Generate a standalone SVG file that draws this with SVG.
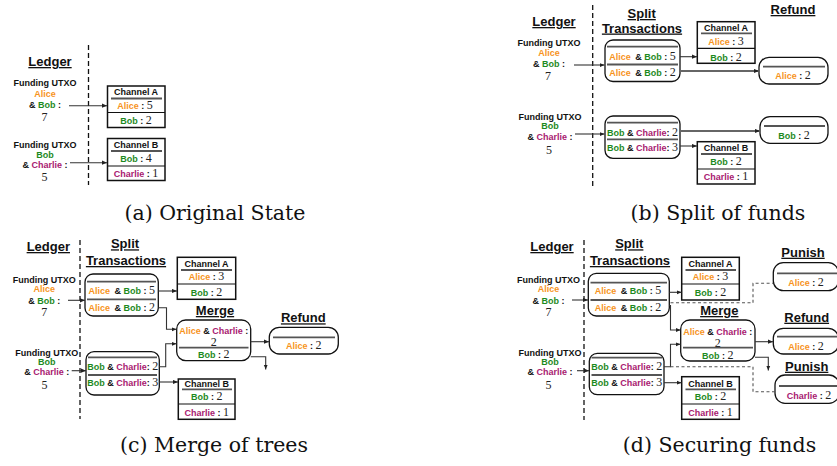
<svg xmlns="http://www.w3.org/2000/svg" width="837" height="466" viewBox="0 0 837 466">
<style>
.s{font-family:"Liberation Sans",Arial,sans-serif;font-weight:bold;font-size:9px;fill:#111;text-anchor:middle}
.d{font-family:"Liberation Serif","Times New Roman",serif;font-weight:normal;font-size:12px;fill:#222}
.hd{font-family:"Liberation Sans",Arial,sans-serif;font-weight:bold;font-size:13px;fill:#111;text-anchor:middle;text-decoration:underline}
.cap{font-family:"DejaVu Serif","Liberation Serif",serif;font-size:20.5px;fill:#111;text-anchor:middle}
.al{fill:#F7941D}.bo{fill:#1E8A1E}.chl{fill:#A82070}
.box{fill:#fff;stroke:#111;stroke-width:1.5}
.rb{fill:#fff;stroke:#111;stroke-width:1.3}
.dv{stroke:#555;stroke-width:1.8;fill:none}
.sp{stroke:#111;stroke-width:1.2;fill:none}
.ld{stroke:#111;stroke-width:1.3;stroke-dasharray:5 3;fill:none}
.c{stroke:#333;stroke-width:1.1;fill:none;marker-end:url(#ah)}
.g{stroke:#666;stroke-width:1.8;fill:none;marker-end:url(#ah)}
.dc{stroke:#555;stroke-width:1.1;stroke-dasharray:3 2.5;fill:none}
</style>
<defs>
<marker id="ah" viewBox="0 0 6 6" refX="6" refY="3" markerWidth="5" markerHeight="5" orient="auto" markerUnits="userSpaceOnUse"><path d="M0,0.5 L6,3 L0,5.5 z" fill="#222"/></marker>
</defs>

<!-- ===== Panel (a) ===== -->
<g id="a-ledger">
<line class="ld" x1="88.5" y1="45" x2="88.5" y2="185"/>
<text class="hd" x="50" y="66">Ledger</text>
</g>
<g id="a-fund1">
<text class="s" x="45" y="86">Funding UTXO</text>
<text class="s" x="45" y="96.5"><tspan class="al">Alice</tspan></text>
<text class="s" x="45" y="107.5">&amp; <tspan class="bo">Bob</tspan> :</text>
<text class="s d" x="44.5" y="121">7</text>
</g>
<g id="a-fund2">
<text class="s" x="45" y="148">Funding UTXO</text>
<text class="s" x="45" y="157.5"><tspan class="bo">Bob</tspan></text>
<text class="s" x="45" y="168">&amp; <tspan class="chl">Charlie</tspan> :</text>
<text class="s d" x="44.5" y="180.5">5</text>
</g>
<g id="a-chanA">
<rect class="box" x="107.5" y="86" width="57.5" height="41.5"/>
<text class="s" x="136" y="95">Channel A</text>
<line class="dv" x1="111" y1="98.5" x2="162" y2="98.5"/>
<text class="s" x="135" y="109"><tspan class="al">Alice</tspan> : <tspan class="d">5</tspan></text>
<line class="sp" x1="107.5" y1="112.5" x2="165" y2="112.5"/>
<text class="s" x="136" y="124"><tspan class="bo">Bob</tspan> : <tspan class="d">2</tspan></text>
</g>
<g id="a-chanB">
<rect class="box" x="107.5" y="138.5" width="57.5" height="42"/>
<text class="s" x="136" y="148.3">Channel B</text>
<line class="dv" x1="111" y1="151" x2="162" y2="151"/>
<text class="s" x="136" y="161.7"><tspan class="bo">Bob</tspan> : <tspan class="d">4</tspan></text>
<line class="sp" x1="107.5" y1="166" x2="165" y2="166"/>
<text class="s" x="136" y="177.3"><tspan class="chl">Charlie</tspan> : <tspan class="d">1</tspan></text>
</g>
<text class="cap" x="215" y="220">(a) Original State</text>

<!-- ===== Panel (b) ===== -->
<g id="b-ledger">
<line class="ld" x1="592.7" y1="5" x2="592.7" y2="186"/>
<text class="hd" x="554" y="26">Ledger</text>
</g>
<g id="b-split-title">
<text class="hd" x="641.7" y="18">Split</text>
<text class="hd" x="642" y="32.5">Transactions</text>
</g>
<g id="b-fund1">
<text class="s" x="549" y="46">Funding UTXO</text>
<text class="s" x="549" y="56"><tspan class="al">Alice</tspan></text>
<text class="s" x="549" y="66.5">&amp; <tspan class="bo">Bob</tspan> :</text>
<text class="s d" x="548" y="80">7</text>
</g>
<g id="b-fund2">
<text class="s" x="550" y="119.5">Funding UTXO</text>
<text class="s" x="550" y="129.3"><tspan class="bo">Bob</tspan></text>
<text class="s" x="550" y="140">&amp; <tspan class="chl">Charlie</tspan> :</text>
<text class="s d" x="549" y="153.5">5</text>
</g>
<g id="b-split1">
<rect class="rb" x="605" y="40" width="75" height="41.5" rx="8"/>
<line class="dv" x1="607" y1="46.7" x2="678" y2="46.7"/>
<text class="s" x="642.5" y="60"><tspan class="al">Alice</tspan> <tspan dx="2">&amp;</tspan> <tspan class="bo">Bob</tspan> : <tspan class="d">5</tspan></text>
<line class="dv" x1="607" y1="64.5" x2="678" y2="64.5"/>
<text class="s" x="642.5" y="76"><tspan class="al">Alice</tspan> <tspan dx="2">&amp;</tspan> <tspan class="bo">Bob</tspan> : <tspan class="d">2</tspan></text>
</g>
<g id="b-split2">
<rect class="rb" x="605" y="116" width="75" height="42.3" rx="8"/>
<line class="dv" x1="607" y1="122.7" x2="678" y2="122.7"/>
<text class="s" x="642.5" y="136"><tspan class="bo">Bob</tspan> &amp; <tspan class="chl">Charlie</tspan>: <tspan class="d">2</tspan></text>
<line class="dv" x1="607" y1="139.3" x2="678" y2="139.3"/>
<text class="s" x="642.5" y="151"><tspan class="bo">Bob</tspan> &amp; <tspan class="chl">Charlie</tspan>: <tspan class="d">3</tspan></text>
</g>
<g id="b-chanA">
<rect class="box" x="697.3" y="21.7" width="57.7" height="41.6"/>
<text class="s" x="726" y="31">Channel A</text>
<line class="dv" x1="701" y1="33.3" x2="752" y2="33.3"/>
<text class="s" x="726" y="44.5"><tspan class="al">Alice</tspan> : <tspan class="d">3</tspan></text>
<line class="sp" x1="697.3" y1="48.3" x2="755" y2="48.3"/>
<text class="s" x="726" y="60.8"><tspan class="bo">Bob</tspan> : <tspan class="d">2</tspan></text>
</g>
<g id="b-chanB">
<rect class="box" x="697.3" y="141.7" width="57.7" height="42.3"/>
<text class="s" x="726" y="150.5">Channel B</text>
<line class="dv" x1="701" y1="154" x2="752" y2="154"/>
<text class="s" x="726" y="165"><tspan class="bo">Bob</tspan> : <tspan class="d">2</tspan></text>
<line class="sp" x1="697.3" y1="169" x2="755" y2="169"/>
<text class="s" x="726" y="180.3"><tspan class="chl">Charlie</tspan> : <tspan class="d">1</tspan></text>
</g>
<g id="b-refund1">
<text class="hd" x="793" y="14">Refund</text>
<rect class="rb" x="759" y="57.3" width="69" height="26.7" rx="10"/>
<line class="dv" x1="763" y1="66.7" x2="825" y2="66.7"/>
<text class="s" x="793" y="78.5"><tspan class="al">Alice</tspan> : <tspan class="d">2</tspan></text>
</g>
<g id="b-refund2">
<rect class="rb" x="760" y="116.7" width="68" height="26.6" rx="10"/>
<line class="dv" x1="764" y1="126" x2="825" y2="126"/>
<text class="s" x="794" y="138.5"><tspan class="bo">Bob</tspan> : <tspan class="d">2</tspan></text>
</g>
<text class="cap" x="718" y="220">(b) Split of funds</text>

<!-- ===== Panel (c) ===== -->
<g id="c-ledger">
<line class="ld" x1="80" y1="240" x2="80" y2="419"/>
<text class="hd" x="48.3" y="251">Ledger</text>
</g>
<g id="c-split-title">
<text class="hd" x="125" y="248.3">Split</text>
<text class="hd" x="126" y="265">Transactions</text>
</g>
<g id="c-fund1">
<text class="s" x="44.3" y="282.5">Funding UTXO</text>
<text class="s" x="44.3" y="292.2"><tspan class="al">Alice</tspan></text>
<text class="s" x="44.3" y="303.5">&amp; <tspan class="bo">Bob</tspan> :</text>
<text class="s d" x="44.3" y="315.7">7</text>
</g>
<g id="c-fund2">
<text class="s" x="46.7" y="355.5">Funding UTXO</text>
<text class="s" x="46.7" y="364.5"><tspan class="bo">Bob</tspan></text>
<text class="s" x="46.7" y="375">&amp; <tspan class="chl">Charlie</tspan> :</text>
<text class="s d" x="44.5" y="389">5</text>
</g>
<g id="c-split1">
<rect class="rb" x="85" y="274" width="73.3" height="42" rx="8"/>
<line class="dv" x1="87" y1="281.7" x2="156" y2="281.7"/>
<text class="s" x="121.7" y="294"><tspan class="al">Alice</tspan> <tspan dx="2">&amp;</tspan> <tspan class="bo">Bob</tspan> : <tspan class="d">5</tspan></text>
<line class="dv" x1="87" y1="299.3" x2="156" y2="299.3"/>
<text class="s" x="121.7" y="311"><tspan class="al">Alice</tspan> <tspan dx="2">&amp;</tspan> <tspan class="bo">Bob</tspan> : <tspan class="d">2</tspan></text>
</g>
<g id="c-split2">
<rect class="rb" x="86" y="351.7" width="73.3" height="43.3" rx="8"/>
<line class="dv" x1="88" y1="357.3" x2="157" y2="357.3"/>
<text class="s" x="122.7" y="370"><tspan class="bo">Bob</tspan> &amp; <tspan class="chl">Charlie</tspan>: <tspan class="d">2</tspan></text>
<line class="dv" x1="88" y1="375" x2="157" y2="375"/>
<text class="s" x="122.7" y="386"><tspan class="bo">Bob</tspan> &amp; <tspan class="chl">Charlie</tspan>: <tspan class="d">3</tspan></text>
</g>
<g id="c-chanA">
<rect class="box" x="177.3" y="257.3" width="58.4" height="42"/>
<text class="s" x="206.5" y="267.2">Channel A</text>
<line class="dv" x1="181" y1="270" x2="232" y2="270"/>
<text class="s" x="206.5" y="280.2"><tspan class="al">Alice</tspan> : <tspan class="d">3</tspan></text>
<line class="sp" x1="177.3" y1="284" x2="235.7" y2="284"/>
<text class="s" x="206.5" y="295.8"><tspan class="bo">Bob</tspan> : <tspan class="d">2</tspan></text>
</g>
<g id="c-chanB">
<rect class="box" x="178.3" y="379" width="56.7" height="40.3"/>
<text class="s" x="206.7" y="386.5">Channel B</text>
<line class="dv" x1="182" y1="389.3" x2="232" y2="389.3"/>
<text class="s" x="206.7" y="400.2"><tspan class="bo">Bob</tspan> : <tspan class="d">2</tspan></text>
<line class="sp" x1="178.3" y1="404" x2="235" y2="404"/>
<text class="s" x="206.7" y="415.8"><tspan class="chl">Charlie</tspan> : <tspan class="d">1</tspan></text>
</g>
<g id="c-merge">
<text class="hd" x="215" y="315">Merge</text>
<rect class="rb" x="176.7" y="320" width="74" height="40.7" rx="9"/>
<text class="s" x="213.7" y="334"><tspan class="al">Alice</tspan> &amp; <tspan class="chl">Charlie</tspan> :</text>
<text class="s d" x="213.7" y="345.7">2</text>
<line class="dv" x1="179" y1="347.7" x2="248.5" y2="347.7"/>
<text class="s" x="213.7" y="358.3"><tspan class="bo">Bob</tspan> : <tspan class="d">2</tspan></text>
</g>
<g id="c-refund">
<text class="hd" x="303.3" y="322.3">Refund</text>
<rect class="rb" x="269.3" y="327.3" width="69" height="26.7" rx="10"/>
<line class="dv" x1="273" y1="337.3" x2="335" y2="337.3"/>
<text class="s" x="303.8" y="349.2"><tspan class="al">Alice</tspan> : <tspan class="d">2</tspan></text>
</g>
<text class="cap" x="214" y="452">(c) Merge of trees</text>

<!-- ===== Panel (d) ===== -->
<g id="d-ledger">
<line class="ld" x1="584" y1="240" x2="584" y2="420"/>
<text class="hd" x="552" y="251">Ledger</text>
</g>
<g id="d-split-title">
<text class="hd" x="629.3" y="248.3">Split</text>
<text class="hd" x="630" y="265">Transactions</text>
</g>
<g id="d-fund1">
<text class="s" x="548.5" y="282.5">Funding UTXO</text>
<text class="s" x="548.5" y="292.2"><tspan class="al">Alice</tspan></text>
<text class="s" x="548.5" y="303.5">&amp; <tspan class="bo">Bob</tspan> :</text>
<text class="s d" x="548.5" y="315.7">7</text>
</g>
<g id="d-fund2">
<text class="s" x="550" y="355.5">Funding UTXO</text>
<text class="s" x="550" y="364.5"><tspan class="bo">Bob</tspan></text>
<text class="s" x="550" y="375">&amp; <tspan class="chl">Charlie</tspan> :</text>
<text class="s d" x="548.5" y="389">5</text>
</g>
<g id="d-split1">
<rect class="rb" x="588.3" y="273.3" width="81" height="42.7" rx="8"/>
<line class="dv" x1="590.5" y1="282.7" x2="667" y2="282.7"/>
<text class="s" x="628" y="294"><tspan class="al">Alice</tspan> <tspan dx="2">&amp;</tspan> <tspan class="bo">Bob</tspan> : <tspan class="d">5</tspan></text>
<line class="dv" x1="590.5" y1="300" x2="667" y2="300"/>
<text class="s" x="628" y="311"><tspan class="al">Alice</tspan> <tspan dx="2">&amp;</tspan> <tspan class="bo">Bob</tspan> : <tspan class="d">2</tspan></text>
</g>
<g id="d-split2">
<rect class="rb" x="589.3" y="353.3" width="74.7" height="41.4" rx="8"/>
<line class="dv" x1="591.5" y1="357.6" x2="662" y2="357.6"/>
<text class="s" x="626.7" y="370"><tspan class="bo">Bob</tspan> &amp; <tspan class="chl">Charlie</tspan>: <tspan class="d">2</tspan></text>
<line class="dv" x1="591.5" y1="375" x2="662" y2="375"/>
<text class="s" x="626.7" y="386"><tspan class="bo">Bob</tspan> &amp; <tspan class="chl">Charlie</tspan>: <tspan class="d">3</tspan></text>
</g>
<g id="d-chanA">
<rect class="box" x="681.7" y="257.3" width="57.6" height="42.7"/>
<text class="s" x="710.5" y="267.2">Channel A</text>
<line class="dv" x1="685.5" y1="270" x2="736" y2="270"/>
<text class="s" x="710.5" y="280.2"><tspan class="al">Alice</tspan> : <tspan class="d">3</tspan></text>
<line class="sp" x1="681.7" y1="284" x2="739.3" y2="284"/>
<text class="s" x="710.5" y="295.8"><tspan class="bo">Bob</tspan> : <tspan class="d">2</tspan></text>
</g>
<g id="d-chanB">
<rect class="box" x="681.7" y="376.7" width="57.6" height="42.6"/>
<text class="s" x="710.5" y="386.5">Channel B</text>
<line class="dv" x1="685.5" y1="389.3" x2="736" y2="389.3"/>
<text class="s" x="710.5" y="400.2"><tspan class="bo">Bob</tspan> : <tspan class="d">2</tspan></text>
<line class="sp" x1="681.7" y1="404" x2="739.3" y2="404"/>
<text class="s" x="710.5" y="415.8"><tspan class="chl">Charlie</tspan> : <tspan class="d">1</tspan></text>
</g>
<g id="d-merge">
<text class="hd" x="719.3" y="315">Merge</text>
<rect class="rb" x="680.7" y="320" width="74.3" height="41" rx="9"/>
<text class="s" x="717.8" y="335"><tspan class="al">Alice</tspan> &amp; <tspan class="chl">Charlie</tspan> :</text>
<text class="s d" x="717.8" y="346.5">2</text>
<line class="dv" x1="683" y1="347.7" x2="753" y2="347.7"/>
<text class="s" x="717.8" y="358.5"><tspan class="bo">Bob</tspan> : <tspan class="d">2</tspan></text>
</g>
<g id="d-punish1">
<text class="hd" x="803" y="256.7">Punish</text>
<rect class="rb" x="773.3" y="262.7" width="65" height="28" rx="10"/>
<line class="dv" x1="777" y1="273.3" x2="837" y2="273.3"/>
<text class="s" x="806" y="286"><tspan class="al">Alice</tspan> : <tspan class="d">2</tspan></text>
</g>
<g id="d-refund">
<text class="hd" x="806.7" y="321.7">Refund</text>
<rect class="rb" x="773.3" y="328.3" width="65" height="25.7" rx="10"/>
<line class="dv" x1="777" y1="336.7" x2="837" y2="336.7"/>
<text class="s" x="806" y="349.5"><tspan class="al">Alice</tspan> : <tspan class="d">2</tspan></text>
</g>
<g id="d-punish2">
<text class="hd" x="806.7" y="370.7">Punish</text>
<rect class="rb" x="775" y="375" width="64" height="28.3" rx="10"/>
<line class="dv" x1="779" y1="386" x2="837" y2="386"/>
<text class="s" x="809" y="398.8"><tspan class="chl">Charlie</tspan> : <tspan class="d">2</tspan></text>
</g>
<text class="cap" x="719.5" y="452">(d) Securing funds</text>

<!-- ===== Connectors ===== -->
<g id="connectors">
<line class="c" x1="69" y1="105.7" x2="107" y2="105.7"/>
<line class="c" x1="70" y1="162.7" x2="107" y2="162.7"/>

<line class="c" x1="574" y1="65" x2="604.5" y2="65"/>
<line class="c" x1="575" y1="134" x2="604.5" y2="134"/>
<line class="c" x1="680" y1="56.7" x2="697" y2="56.7"/>
<line class="g" x1="680" y1="71" x2="759" y2="71"/>
<line class="g" x1="680" y1="131" x2="760" y2="131"/>
<line class="c" x1="680" y1="146" x2="697" y2="146"/>

<line class="c" x1="68" y1="300.3" x2="85" y2="300.3"/>
<line class="c" x1="71.7" y1="370.7" x2="86" y2="370.7"/>
<line class="c" x1="158.3" y1="291" x2="177" y2="291"/>
<path class="c" d="M158.3,307.7 H166.5 V329.3 H176.5"/>
<path class="c" d="M159.3,366.7 H165.7 V343.8 H176.5"/>
<line class="c" x1="159.3" y1="382" x2="178" y2="382"/>
<line class="c" x1="250.7" y1="341.7" x2="269" y2="341.7"/>
<path class="c" d="M250.7,356.7 H265.7 V369.5"/>

<line class="c" x1="572" y1="300" x2="588" y2="300"/>
<line class="c" x1="577" y1="370.7" x2="589" y2="370.7"/>
<line class="c" x1="669.3" y1="292.3" x2="681.5" y2="292.3"/>
<path class="c" d="M669.3,305.5 H670.5 V330 H680.5"/>
<path class="c" d="M664,366.7 H670.5 V344.3 H680.5"/>
<line class="c" x1="664" y1="382.7" x2="681.5" y2="382.7"/>
<line class="c" x1="755" y1="341.7" x2="773" y2="341.7"/>
<path class="c" d="M755,357.3 H768.3 V370.5"/>
<path class="dc" d="M670.5,302.7 H753 V283.3 H773.3"/>
<path class="dc" d="M670.5,366.7 H753 V391.7 H775"/>
</g>
</svg>
